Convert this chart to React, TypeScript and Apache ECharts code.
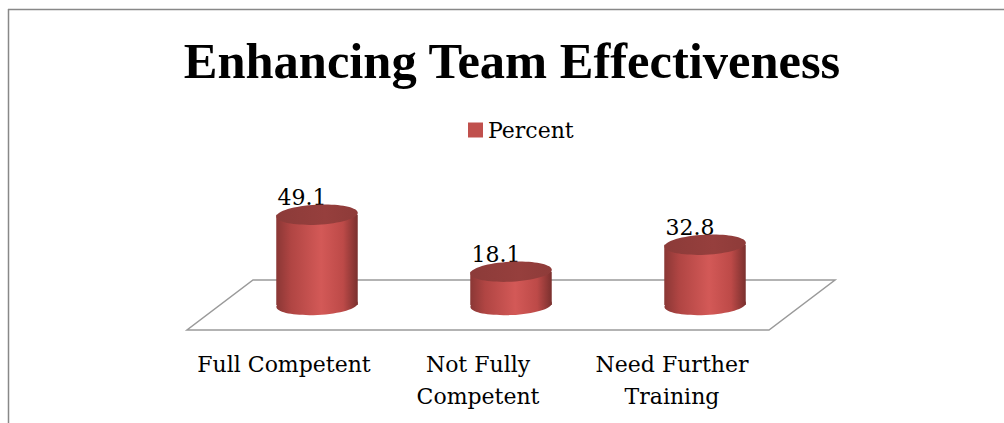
import React, { useEffect, useRef } from "react";
import * as echarts from "echarts";

const titleText = "Enhancing Team Effectiveness";
const seriesName = "Percent";
const categories = ["Full Competent", "Not Fully\nCompetent", "Need Further\nTraining"];
const percent = [49.1, 18.1, 32.8];

const FONT = "DejaVu Serif";
const TITLE_FONT = "Liberation Serif";
const DX = 66;
const DY = -50;

export default function App() {
  const ref = useRef<HTMLDivElement>(null);
  useEffect(() => {
    document.body.style.margin = "0";
    const chart = echarts.init(ref.current!, null, { renderer: "svg" });
    const sideFill = {
      type: "linear", x: 0, y: 0, x2: 1, y2: 0,
      colorStops: [
        { offset: 0, color: "#8a3735" },
        { offset: 0.18, color: "#b04543" },
        { offset: 0.55, color: "#d35957" },
        { offset: 0.82, color: "#bd4a48" },
        { offset: 1, color: "#7a302e" },
      ],
    };
    const topFill = {
      type: "linear", x: 0, y: 0, x2: 1, y2: 0,
      colorStops: [
        { offset: 0, color: "#8c3b39" },
        { offset: 0.6, color: "#963f3d" },
        { offset: 1, color: "#8e3b39" },
      ],
    };
    const option: any = {
      animation: false,
      title: {
        text: titleText,
        left: 507,
        top: 30,
        textAlign: "center",
        textStyle: { fontFamily: TITLE_FONT, fontWeight: "bold", fontSize: 50.5, color: "#000" },
      },
      legend: {
        data: [{ name: seriesName, icon: "rect" }],
        left: 463,
        top: 114,
        itemWidth: 15,
        itemHeight: 15,
        textStyle: { fontFamily: FONT, fontSize: 22, color: "#000" },
      },
      grid: { left: 187, right: 235, top: 146, bottom: 93 },
      xAxis: {
        type: "category",
        data: categories,
        axisLine: { show: false },
        axisTick: { show: false },
        splitLine: { show: false },
        axisLabel: { interval: 0, fontFamily: FONT, fontSize: 22, lineHeight: 32, margin: 18, color: "#000" },
      },
      yAxis: { type: "value", min: 0, max: 100, show: false },
      graphic: [
        { type: "line", shape: { x1: 8.5, y1: 9, x2: 8.5, y2: 423 }, style: { stroke: "#888", lineWidth: 1.5 } },
        { type: "line", shape: { x1: 8, y1: 9.5, x2: 1004, y2: 9.5 }, style: { stroke: "#888", lineWidth: 1.5 } },
      ],
      series: [
        {
          type: "custom",
          name: "floor",
          silent: true,
          z: 1,
          data: [[0, 0]],
          encode: { x: 0, y: 1 },
          renderItem: (params: any, api: any) => {
            const cs = params.coordSys;
            const y0 = api.coord([0, 0])[1];
            const x0 = cs.x;
            const x1 = cs.x + cs.width;
            return {
              type: "polygon",
              shape: { points: [[x0, y0], [x1, y0], [x1 + DX, y0 + DY], [x0 + DX, y0 + DY]] },
              style: { fill: "#fff", stroke: "#9a9a9a", lineWidth: 1.5 },
            };
          },
        },
        {
          type: "custom",
          name: seriesName,
          z: 2,
          itemStyle: { color: "#C0504D" },
          data: percent.map((v, i) => [i, v]),
          encode: { x: 0, y: 1 },
          renderItem: (params: any, api: any) => {
            const i = api.value(0);
            const v = api.value(1);
            const base = api.coord([i, 0]);
            const top = api.coord([i, v]);
            const band = api.size([1, 0])[0];
            const rx = band * 0.21;
            const ry = 10;
            const cx = base[0] + DX / 2;
            const by = base[1] + DY / 2;
            const ty = top[1] + DY / 2;
            const rot = 0.05;
            return {
              type: "group",
              children: [
                {
                  type: "text",
                  x: cx - 15,
                  y: ty - ry + 4,
                  style: {
                    text: v.toFixed(1),
                    fill: "#000",
                    fontSize: 22,
                    fontFamily: FONT,
                    align: "center",
                    verticalAlign: "bottom",
                  },
                },
                {
                  type: "ellipse",
                  shape: { cx, cy: by, rx, ry },
                  rotation: rot, originX: cx, originY: by,
                  style: { fill: sideFill },
                },
                {
                  type: "rect",
                  shape: { x: cx - rx, y: ty, width: 2 * rx, height: by - ty },
                  style: { fill: sideFill },
                },
                {
                  type: "ellipse",
                  shape: { cx, cy: ty, rx, ry },
                  rotation: rot, originX: cx, originY: ty,
                  style: { fill: topFill },
                },
              ],
            };
          },
        },
      ],
    };
    chart.setOption(option);
    return () => chart.dispose();
  }, []);
  return <div ref={ref} style={{ width: 1004, height: 423 }} />;
}
